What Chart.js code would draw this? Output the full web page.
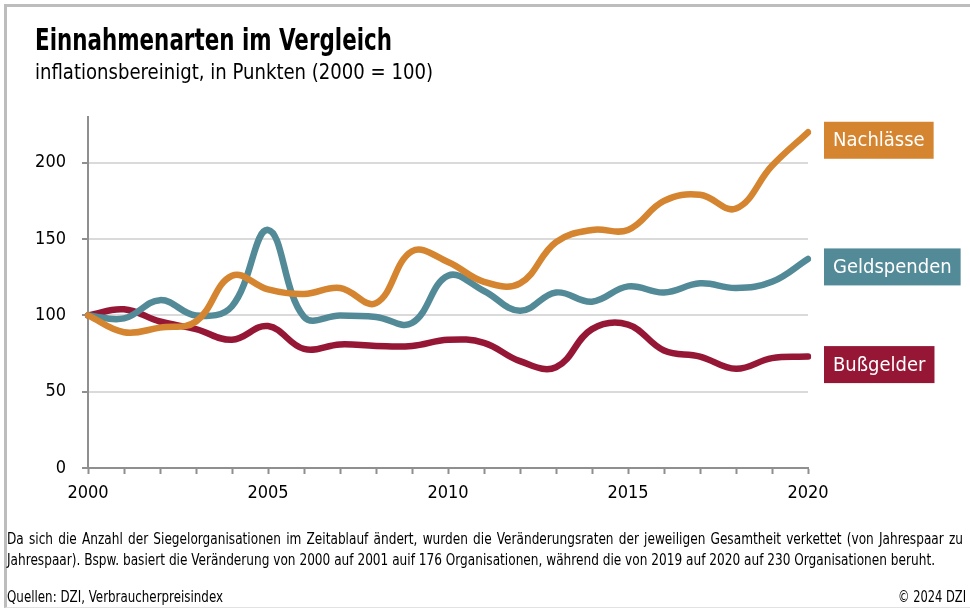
<!DOCTYPE html>
<html>
<head>
<meta charset="utf-8">
<script src="https://cdn.jsdelivr.net/npm/chart.js@4/dist/chart.umd.min.js"></script>
<style>
  body { margin: 0; background: #fff; font-family: "DejaVu Sans Condensed", "DejaVu Sans", sans-serif; }
  #wrap { position: relative; width: 970px; height: 608px; overflow: hidden; }
  #frame { position: absolute; left: 4px; top: 4px; width: 980px; height: 600px; border-top: 3px solid #bdbdbd; border-left: 3px solid #bdbdbd; border-bottom: 1px solid #e2e2e2; }
  canvas { position: absolute; left: 0; top: 0; }
  .txt { position: absolute; color: #000; white-space: nowrap; transform-origin: left top; }
  #title { left: 35px; top: 22px; font-size: 30px; font-weight: bold; }
  #sub { left: 35px; top: 60px; font-size: 21px; }
  #note { left: 7px; top: 529px; font-size: 15px; line-height: 21px; }
  #n1 { text-align: justify; text-align-last: justify; }
  #src { left: 7px; top: 588px; font-size: 15px; }
  #copy { right: 4px; top: 588px; font-size: 15px; transform-origin: right top; }
</style>
</head>
<body>
<div id="wrap">
  <div id="frame"></div>
  <canvas id="chart" width="970" height="608"></canvas>
  <div class="txt" id="title">Einnahmenarten im Vergleich</div>
  <div class="txt" id="sub">inflationsbereinigt, in Punkten (2000 = 100)</div>
  <div class="txt" id="note">
    <div id="n1">Da sich die Anzahl der Siegelorganisationen im Zeitablauf ändert, wurden die Veränderungsraten der jeweiligen Gesamtheit verkettet (von Jahrespaar zu</div>
    <div><span id="n2">Jahrespaar). Bspw. basiert die Veränderung von 2000 auf 2001 auif 176 Organisationen, während die von 2019 auf 2020 auf 230 Organisationen beruht.</span></div>
  </div>
  <div class="txt" id="src">Quellen: DZI, Verbraucherpreisindex</div>
  <div class="txt" id="copy">© 2024 DZI</div>
</div>
<script>
const years = [2000, 2001, 2002, 2003, 2004, 2005, 2006, 2007, 2008, 2009, 2010,
  2011, 2012, 2013, 2014, 2015, 2016, 2017, 2018, 2019, 2020];
const nachlaesse = [100, 89, 92, 96, 126, 117, 114, 118, 108, 142, 135,
  122, 121, 148, 156, 156, 175, 179, 170, 198, 220];
const geldspenden = [100, 98, 110, 100, 106, 156, 99, 100, 99, 95, 126,
  116, 103, 115, 109, 119, 115, 121, 118, 122, 137];
const bussgelder = [100, 104, 96, 91, 84, 93, 78, 81, 80, 80, 84,
  82, 70, 66, 91, 94, 77, 73, 65, 72, 73];
const yTicks = [0, 50, 100, 150, 200];

const FONT = '"DejaVu Sans Condensed", "DejaVu Sans", sans-serif';
const AXIS_GREY = "#8f8f8f";

// squeeze the html texts to the narrow widths of the original lettering
function fit(id, width) {
  const el = document.getElementById(id);
  const s = width / el.getBoundingClientRect().width;
  el.style.transform = `scaleX(${s})`;
  return s;
}
fit("title", 357);
fit("sub", 398);
fit("src", 216);
fit("copy", 68);
const ns = 928 / document.getElementById("n2").getBoundingClientRect().width;
document.getElementById("n1").style.width = 956 / ns + "px";
document.getElementById("note").style.transform = `scaleX(${ns})`;

// boxed series names at the right end of each line
const endLabels = {
  id: "endLabels",
  afterDatasetsDraw(chart) {
    const ctx = chart.ctx;
    ctx.save();
    ctx.font = "20px " + FONT;
    ctx.textBaseline = "middle";
    chart.data.datasets.forEach((ds, i) => {
      const meta = chart.getDatasetMeta(i);
      const pt = meta.data[meta.data.length - 1];
      const cy = pt.y + 8;
      const w = ctx.measureText(ds.label).width + 18;
      const x = chart.chartArea.right + 16;
      ctx.fillStyle = ds.borderColor;
      ctx.fillRect(x, cy - 18.5, w, 37);
      ctx.fillStyle = "#fff";
      ctx.fillText(ds.label, x + 9, cy + 1);
    });
    ctx.restore();
  },
};

new Chart(document.getElementById("chart"), {
  type: "line",
  data: {
    labels: years,
    datasets: [
      { label: "Nachlässe", data: nachlaesse, borderColor: "#d5842f" },
      { label: "Geldspenden", data: geldspenden, borderColor: "#538a98" },
      { label: "Bußgelder", data: bussgelder, borderColor: "#951735" },
    ].map((d) => ({ ...d, borderWidth: 6.5, tension: 0.4, pointRadius: 0, fill: false, borderCapStyle: "round" })),
  },
  options: {
    responsive: false,
    animation: false,
    devicePixelRatio: 1,
    layout: { padding: { top: 117, right: 162, left: 0, bottom: 0 } },
    plugins: { legend: { display: false }, tooltip: { enabled: false } },
    scales: {
      x: {
        offset: false,
        afterFit(scale) { scale.height = 140; },
        border: { color: AXIS_GREY, width: 2 },
        grid: { drawOnChartArea: false, drawTicks: true, tickLength: 6, tickColor: AXIS_GREY, tickWidth: 2 },
        ticks: {
          autoSkip: false,
          maxRotation: 0,
          padding: 9,
          color: "#000",
          font: { family: FONT, size: 18 },
          callback: (v, i) => (years[i] % 5 === 0 ? String(years[i]) : ""),
        },
      },
      y: {
        min: 0,
        max: 230,
        afterFit(scale) { scale.width = 88; },
        afterBuildTicks(scale) { scale.ticks = yTicks.map((v) => ({ value: v })); },
        border: { color: AXIS_GREY, width: 2 },
        grid: {
          color: (c) => (c.tick && c.tick.value === 0 ? "rgba(0,0,0,0)" : "#dadada"),
          lineWidth: 2,
          drawTicks: true,
          tickLength: 6,
          tickColor: AXIS_GREY,
          tickWidth: 2,
        },
        ticks: { padding: 16, color: "#000", font: { family: FONT, size: 18 } },
      },
    },
  },
  plugins: [endLabels],
});
</script>
</body>
</html>
